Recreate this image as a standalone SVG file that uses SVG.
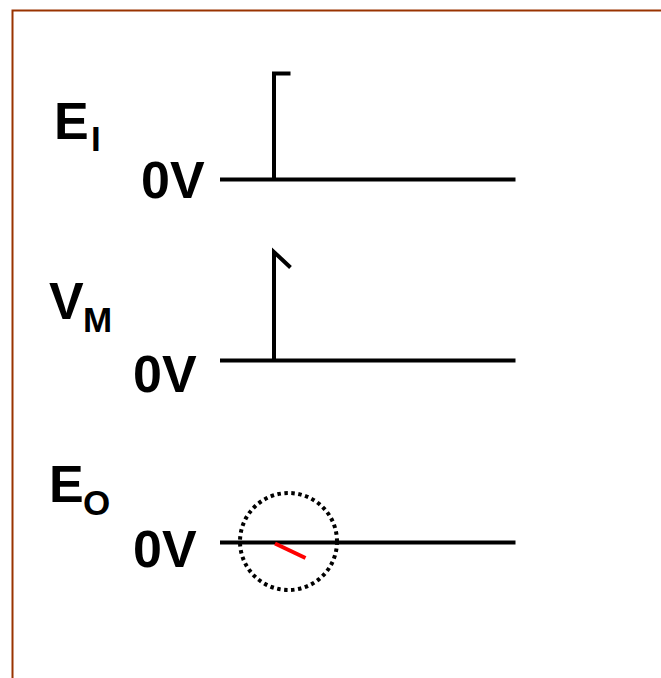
<svg xmlns="http://www.w3.org/2000/svg" width="661" height="678" viewBox="0 0 661 678">
<style>
.lbl{font-family:"Liberation Sans",Arial,sans-serif;font-weight:bold;fill:#000}
.big{font-size:52px}
.sub{font-size:35px}
.sig{fill:none;stroke:#000;stroke-width:4;stroke-linecap:butt;stroke-linejoin:miter}
</style>
<rect x="0" y="0" width="661" height="678" fill="#fff"/>
<path d="M12.5,678 V10.5 H661" fill="none" stroke="#993300" stroke-width="2"/>
<g id="EI">
<text class="lbl big" x="54" y="139">E</text>
<text class="lbl sub" x="91" y="151">I</text>
<text class="lbl big" x="141" y="198">0V</text>
</g>
<g id="VM">
<text class="lbl big" x="49" y="319">V</text>
<text class="lbl sub" x="83" y="332">M</text>
<text class="lbl big" x="133" y="392">0V</text>
</g>
<g id="EO">
<text class="lbl big" x="49" y="502">E</text>
<text class="lbl sub" x="83" y="515">O</text>
<text class="lbl big" x="133" y="567">0V</text>
</g>
<g id="connectors">
<line class="sig" x1="220" y1="179.5" x2="515.5" y2="179.5"/>
<path class="sig" d="M274,180 V73.5 H290.5"/>
<line class="sig" x1="220" y1="360.5" x2="515.5" y2="360.5"/>
<path class="sig" d="M274,360 V252 L290.5,267.5"/>
<line class="sig" x1="220" y1="542.5" x2="515.5" y2="542.5"/>
<line x1="275" y1="543.5" x2="305.5" y2="558" stroke="#ff0000" stroke-width="4"/>
<circle cx="288.5" cy="541.5" r="48.5" fill="none" stroke="#000" stroke-width="4" stroke-dasharray="3.5 3.5"/>
</g>
</svg>
